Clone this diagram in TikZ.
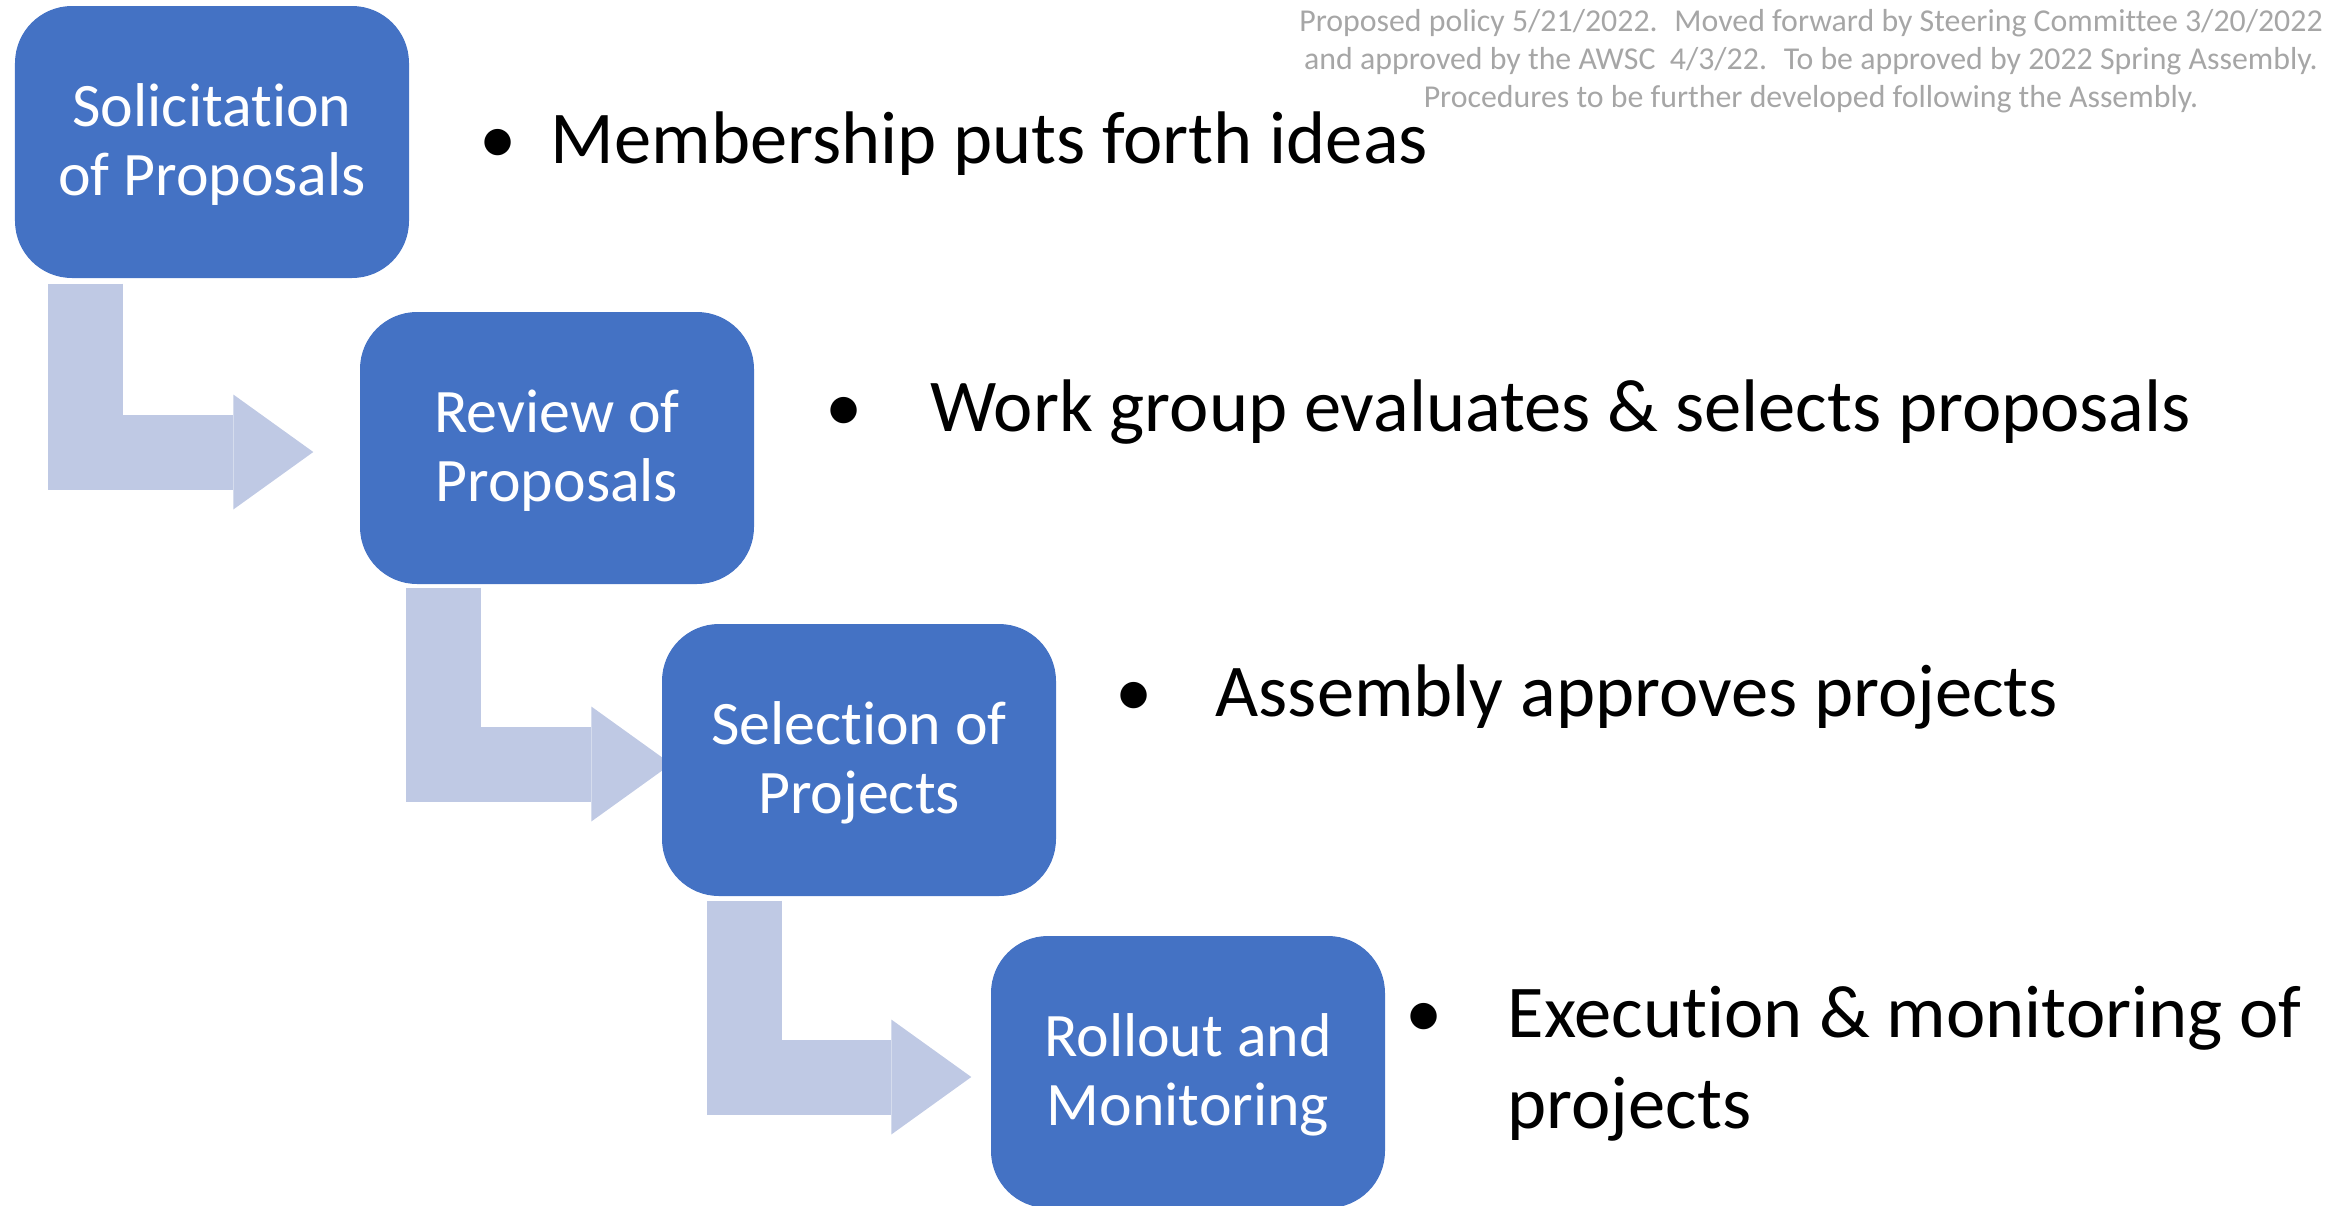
\documentclass[tikz,border=0pt]{standalone}
\usepackage{fontspec}
\setmainfont{Carlito}[Ligatures=CommonOff]
\usetikzlibrary{positioning,calc,arrows.meta,backgrounds}
\definecolor{stageblue}{RGB}{68,114,196}
\definecolor{flowblue}{RGB}{191,201,228}
\definecolor{notegray}{RGB}{166,166,166}

\begin{document}
\begin{tikzpicture}[
    stage/.style={rectangle, rounded corners=5.7mm, fill=stageblue, text=white,
      minimum width=3.94cm, minimum height=2.72cm, align=center, text depth=0.05cm,
      font=\fontsize{17.6}{19.6}\selectfont},
    item/.style={inner sep=0pt, font=\fontsize{21.2}{25.8}\selectfont},
    note/.style={inner sep=0pt, align=center, text=notegray,
      font=\fontsize{9.06}{10.8}\selectfont},
    flow/.style={draw=flowblue, line width=7.5mm,
      -{Triangle[length=8mm,width=11.5mm,line width=0pt]}}
    ]
\useasboundingbox (0,0) rectangle (23.34,-12.06);

% stages
\node[stage] (S) at (2.12,-1.42) {Solicitation\\of Proposals};
\node[stage] (R) at (5.57,-4.48) {Review of\\Proposals};
\node[stage] (P) at (8.59,-7.60) {Selection of\\Projects};
\node[stage] (M) at (11.88,-10.72) {Rollout and\\Monitoring};

% bullets
\node[item, anchor=base] (bS) at (4.98,-1.63) {•};
\node[item, anchor=base west] (tS) at (5.50,-1.63) {Membership puts forth ideas};
\node[item, anchor=base] (bR) at (8.44,-4.31) {•};
\node[item, anchor=base west] (tR) at (9.30,-4.31) {Work group evaluates \& selects proposals};
\node[item, anchor=base] (bP) at (11.34,-7.16) {•};
\node[item, anchor=base west] (tP) at (12.15,-7.16) {Assembly approves projects};
\node[item, anchor=base] (bM) at (14.24,-10.37) {•};
\node[item, anchor=base west, align=left] (tM) at (15.07,-11.28) {Execution \& monitoring of\\projects};

% note
\node[note, anchor=base] (note) at (18.11,-1.07) {Proposed policy 5/21/2022.~ Moved forward by Steering Committee 3/20/2022\\and approved by the AWSC~ 4/3/22.~ To be approved by 2022 Spring Assembly.\\Procedures to be further developed following the Assembly.};

\begin{scope}[on background layer]
\draw[flow] ($(S.south west)+(0.715,-0.05)$) |- ([shift={(-0.46,-0.04)}]R.west);
\draw[flow] ($(R.south west)+(0.845,-0.03)$) |- ([shift={(0.1,-0.04)}]P.west);
\draw[flow] ($(P.south west)+(0.83,-0.04)$) |- ([shift={(-0.19,-0.05)}]M.west);
\end{scope}
\end{tikzpicture}
\end{document}
